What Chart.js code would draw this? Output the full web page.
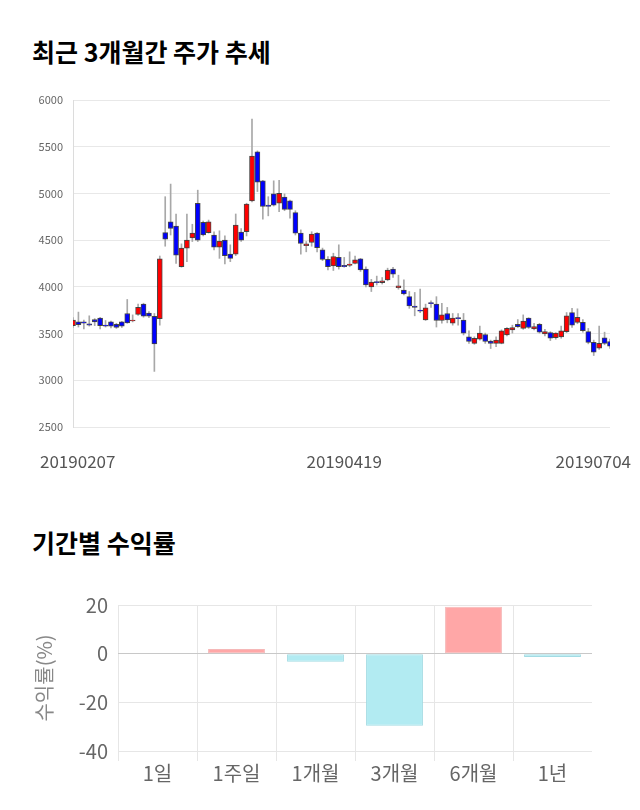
<!DOCTYPE html>
<html>
<head>
<meta charset="utf-8">
<script src="https://cdn.jsdelivr.net/npm/chart.js@4/dist/chart.umd.min.js"></script>
<style>
  html, body { margin: 0; padding: 0; background: #fff; }
  body { width: 640px; height: 810px; position: relative; overflow: hidden; font-family: "Noto Sans CJK KR", "Noto Sans", sans-serif; }
  .title { position: absolute; left: 32px; font-size: 25px; font-weight: 700; color: #000; line-height: 32px; }
  canvas { position: absolute; left: 0; display: block; }
</style>
</head>
<body>
<div class="title" style="top:35px">최근 3개월간 주가 추세</div>
<canvas id="chart-price" width="640" height="400" style="top:80px"></canvas>
<div class="title" style="top:526px">기간별 수익률</div>
<canvas id="chart-return" width="640" height="240" style="top:570px"></canvas>
<script>
// ── Price data (daily candles, 20190207 ~ 20190704) ─────────────────────────
const opens  = [3585,3625,3625,3605,3650,3665,3590,3625,3600,3625,3715,3635,3705,3815,3720,3685,3660,4580,4695,4650,
                4215,4415,4525,4895,4690,4580,4555,4425,4500,4350,4350,4585,4590,4920,5445,5135,4875,4995,4895,4960,
                4920,4795,4575,4440,4475,4575,4395,4295,4225,4315,4230,4230,4250,4300,4190,4000,4055,4045,4075,4190,
                3990,3965,3895,3795,3750,3645,3830,3815,3640,3715,3610,3665,3645,3465,3395,3440,3490,3420,3395,3395,
                3485,3540,3600,3555,3665,3550,3600,3495,3510,3455,3465,3520,3725,3620,3620,3520,3405,3345,3455,3415];
const highs  = [3670,3730,3645,3690,3660,3675,3640,3635,3610,3630,3865,3700,3815,3825,3735,3715,4330,4965,5100,4780,
                4460,4780,4670,5035,4705,4715,4590,4600,4545,4450,4780,4625,4895,5795,5455,5140,4965,5135,5140,4995,
                4930,4815,4610,4485,4590,4580,4415,4325,4360,4450,4315,4375,4330,4305,4215,4080,4115,4100,4200,4210,
                4125,4075,3950,3940,3975,3815,3850,3895,3825,3780,3715,3715,3715,3530,3465,3580,3505,3430,3465,3540,
                3565,3590,3650,3700,3670,3610,3610,3545,3520,3510,3580,3725,3770,3765,3650,3555,3430,3580,3515,3440];
const lows   = [3565,3570,3550,3580,3585,3550,3570,3560,3555,3565,3610,3625,3695,3675,3670,3095,3590,4435,4555,4250,
                4210,4270,4485,4485,4545,4575,4395,4305,4245,4270,4335,4485,4545,4910,5020,4725,4760,4865,4805,4815,
                4735,4555,4350,4375,4435,4375,4280,4180,4175,4190,4210,4215,4245,4165,4000,3950,4020,4030,4065,4100,
                3975,3915,3770,3690,3725,3640,3780,3570,3610,3615,3590,3590,3485,3395,3385,3430,3395,3340,3360,3390,
                3475,3505,3565,3545,3555,3540,3505,3475,3425,3440,3450,3510,3565,3605,3515,3390,3265,3330,3380,3340];
const closes = [3645,3595,3610,3590,3625,3585,3580,3580,3565,3580,3615,3640,3780,3685,3685,3390,4300,4510,4625,4340,
                4415,4500,4575,4500,4555,4695,4425,4490,4335,4305,4660,4500,4885,5400,5120,4860,4860,4875,5000,4830,
                4830,4575,4465,4460,4565,4420,4295,4215,4325,4215,4215,4245,4290,4180,4020,4050,4045,4065,4180,4135,
                4010,3925,3795,3780,3740,3775,3820,3640,3700,3645,3665,3660,3505,3415,3450,3505,3415,3395,3430,3530,
                3555,3565,3575,3635,3565,3575,3515,3520,3450,3505,3530,3690,3590,3675,3530,3405,3300,3395,3395,3365];
const dateTickIndex  = [0, 50, 99];
const dateTickLabels = ['20190207', '20190419', '20190704'];
const priceTicks = { min: 2500, max: 6000, step: 500 };

// ── Period return data ───────────────────────────────────────────────────────
const periods = ['1일', '1주일', '1개월', '3개월', '6개월', '1년'];
const returns = [0, 1.9, -3.3, -29.6, 19.3, -1.4];

Chart.defaults.font.family = '"Noto Sans CJK KR", "Noto Sans", sans-serif';

// ── Candle chart ─────────────────────────────────────────────────────────────
const upColor = '#ff0000', downColor = '#0000ff';
const candleColors = closes.map((c, i) => c >= opens[i] ? upColor : downColor);

// draw the date labels, kept inside the canvas like the original
const dateLabels = {
  id: 'dateLabels',
  afterDraw(chart) {
    const { ctx, chartArea } = chart;
    const x = chart.scales.x;
    ctx.save();
    ctx.font = '17px "Noto Sans CJK KR", "Noto Sans", sans-serif';
    ctx.fillStyle = '#555';
    ctx.textAlign = 'center';
    ctx.textBaseline = 'middle';
    dateTickIndex.forEach((idx, k) => {
      const txt = dateTickLabels[k];
      const w = ctx.measureText(txt).width;
      let px = x.getPixelForValue(idx);
      px = Math.min(Math.max(px, 40 + w / 2), chart.width - 9 - w / 2);
      ctx.fillText(txt, px, chartArea.bottom + 35);
    });
    ctx.restore();
  },
};

new Chart(document.getElementById('chart-price'), {
  type: 'bar',
  data: {
    labels: opens.map((_, i) => i),
    datasets: [
      {
        label: 'body',
        data: opens.map((o, i) => [o, closes[i]]),
        backgroundColor: candleColors,
        borderColor: 'rgba(40,40,40,0.85)',
        borderWidth: 1,
        borderSkipped: false,
        barThickness: 5,
        minBarLength: 1,
        grouped: false,
        order: 0,
      },
      {
        label: 'wick',
        data: lows.map((l, i) => [l, highs[i]]),
        backgroundColor: '#a8a8a8',
        borderWidth: 0,
        barThickness: 1,
        grouped: false,
        order: 1,
      },
    ],
  },
  options: {
    responsive: false,
    animation: false,
    layout: { padding: { top: 20, right: 30, bottom: 53, left: 0 } },
    plugins: { legend: { display: false }, tooltip: { enabled: false } },
    scales: {
      x: { display: false, offset: false, grid: { display: false, offset: false } },
      y: {
        min: priceTicks.min, max: priceTicks.max,
        afterFit: (s) => { s.width = 73; },
        ticks: { stepSize: priceTicks.step, color: '#666', font: { size: 11 }, padding: 10, callback: (v) => String(v) },
        grid: { color: '#e8e8e8', drawTicks: false },
        border: { display: true, color: '#dcdcdc' },
      },
    },
  },
  plugins: [dateLabels],
});

// ── Return chart ─────────────────────────────────────────────────────────────
const isTick = (c) => c.type === 'tick';
new Chart(document.getElementById('chart-return'), {
  type: 'bar',
  data: {
    labels: periods,
    datasets: [{
      data: returns,
      backgroundColor: returns.map(v => v >= 0 ? '#ffa7a7' : '#b2ebf2'),
      borderColor: returns.map(v => v >= 0 ? '#f5b8b8' : '#a3dbe3'),
      borderWidth: 1,
      borderSkipped: false,
    }],
  },
  options: {
    responsive: false,
    animation: false,
    layout: { padding: { top: 35, right: 48, bottom: 0, left: 0 } },
    plugins: { legend: { display: false }, tooltip: { enabled: false } },
    scales: {
      x: {
        afterFit: (s) => { s.height = 59; },
        ticks: { color: '#666', font: { size: 20 }, padding: 0 },
        grid: {
          color: (c) => isTick(c) ? '#e6e6e6' : 'rgba(0,0,0,0)',
          tickColor: (c) => isTick(c) ? '#e6e6e6' : 'rgba(0,0,0,0)',
          lineWidth: (c) => isTick(c) ? 1 : 0,
          tickWidth: (c) => isTick(c) ? 1 : 0,
          tickLength: 10,
        },
        border: { display: false },
      },
      y: {
        min: -40, max: 20,
        afterFit: (s) => { s.width = 118; },
        ticks: { stepSize: 20, color: '#666', font: { size: 20 }, padding: 10 },
        grid: {
          color: (c) => c.tick && c.tick.value === 0 ? '#c8c8c8' : '#e6e6e6',
          drawTicks: false,
        },
        border: { display: false },
        title: { display: true, text: '수익률(%)', color: '#888', font: { size: 20 }, padding: { top: 32, bottom: 0 } },
      },
    },
  },
});
</script>
</body>
</html>
